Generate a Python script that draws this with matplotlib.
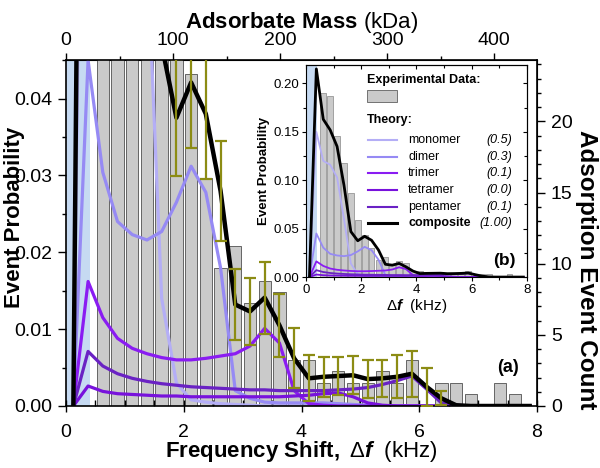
import matplotlib
matplotlib.use('Agg')
import matplotlib.pyplot as plt
import numpy as np
from matplotlib.ticker import MultipleLocator, FormatStrFormatter, NullFormatter
from matplotlib.patches import Rectangle

plt.rcParams['font.family'] = ['Liberation Sans', 'DejaVu Sans']
plt.rcParams['mathtext.fontset'] = 'custom'
plt.rcParams['mathtext.rm'] = 'Liberation Sans'
plt.rcParams['mathtext.it'] = 'Liberation Sans:italic'
plt.rcParams['mathtext.bf'] = 'Liberation Sans:bold'
plt.rcParams['mathtext.bfit'] = 'Liberation Sans:bold:italic'

# bin centres (kHz)
freq = [0.125, 0.375, 0.625, 0.875, 1.125, 1.375, 1.625, 1.875,
        2.125, 2.375, 2.625, 2.875, 3.125, 3.375, 3.625, 3.875,
        4.125, 4.375, 4.625, 4.875, 5.125, 5.375, 5.625, 5.875,
        6.125, 6.375, 6.625, 6.875, 7.125, 7.375, 7.625, 7.875]

# experimental histogram (event probability)
exp_prob = [0, 0, 0.19, 0.187, 0.146, 0.118, 0.087, 0.059,
            0.0432, 0.0297, 0.018, 0.0208, 0.0134, 0.0163, 0.0148, 0.006,
            0.006, 0.003, 0.0045, 0.003, 0.003, 0.0045, 0.003, 0.006,
            0, 0.003, 0.003, 0.0015, 0, 0.003, 0.0015, 0]

# theory curves
monomer = [0, 0.15, 0.12, 0.116, 0.103, 0.06, 0.014, 0.003,
           0.0008, 0.0005, 0.0003, 0.0002, 0.0001, 0, 0, 0,
           0, 0, 0, 0, 0, 0, 0, 0, 0, 0, 0, 0, 0, 0, 0, 0]
dimer = [0, 0.045, 0.0304, 0.024, 0.0223, 0.0216, 0.0227, 0.0265,
         0.0312, 0.0278, 0.018, 0.002, 0.001, 0.0005, 0.0004, 0.0004,
         0.0004, 0.0004, 0.0003, 0.0002, 0.0001, 0, 0, 0,
         0, 0, 0, 0, 0, 0, 0, 0]
trimer = [0, 0.0162, 0.0115, 0.0088, 0.0075, 0.0068, 0.0063, 0.006,
          0.006, 0.0062, 0.0065, 0.0068, 0.0078, 0.0101, 0.0082, 0.002,
          0.0003, 0.0001, 0, 0, 0, 0, 0, 0,
          0, 0, 0, 0, 0, 0, 0, 0]
tetramer = [0, 0.0026, 0.0019, 0.0016, 0.0015, 0.0014, 0.0013, 0.0013,
            0.0012, 0.0012, 0.0012, 0.0012, 0.0012, 0.0012, 0.0012, 0.0013,
            0.0014, 0.0016, 0.0017, 0.0012, 0.0004, 0.0001, 0, 0,
            0, 0, 0, 0, 0, 0, 0, 0]
pentamer = [0, 0.0071, 0.0052, 0.0042, 0.0036, 0.0032, 0.0029, 0.0027,
            0.0025, 0.0024, 0.0023, 0.0022, 0.0021, 0.0021, 0.002, 0.002,
            0.002, 0.002, 0.0021, 0.0022, 0.0024, 0.0028, 0.0033, 0.0039,
            0.0022, 0.0004, 0.0001, 0, 0, 0, 0, 0]
composite = [0, 0.215, 0.163, 0.152, 0.135, 0.095, 0.047, 0.0375,
             0.0421, 0.038, 0.028, 0.0132, 0.0123, 0.0141, 0.0105, 0.0062,
             0.0036, 0.0038, 0.0039, 0.004, 0.0035, 0.0036, 0.0038, 0.0042,
             0.0025, 0.001, 0.0001, 0, 0, 0, 0, 0]

# error bars (on composite), bins 1.875 .. 6.375
err_first, err_last = 7, 25
err_half = [0.0076, 0.0085, 0.0085, 0.0065, 0.0046, 0.0044, 0.0047, 0.0041,
            0.0039, 0.003, 0.0026, 0.0025, 0.0025, 0.0025, 0.0024, 0.0028,
            0.003, 0.0025, 0.0009]

names = ['monomer', 'dimer', 'trimer', 'tetramer', 'pentamer']
weights = ['(0.5)', '(0.3)', '(0.1)', '(0.0)', '(0.1)']
curves = [monomer, dimer, trimer, tetramer, pentamer]
colors = ['#b4aef6', '#968af4', '#8a1cf2', '#7812dc', '#6a22c4']

khz_to_kda = 55.0
prob_to_count = 540.0

fig = plt.figure(figsize=(6, 4.68), dpi=100)
ax = fig.add_axes([0.11, 0.1325, 0.785, 0.739])

ax.axvspan(0, 0.41, color='#c6daf2', zorder=0, lw=0)
ax.bar(freq, exp_prob, width=0.21, color='#cacaca', edgecolor='#505050', lw=0.6, zorder=1)
for c, col in zip(curves, colors):
    ax.plot(freq, c, color=col, lw=2.3, zorder=2)
ax.plot(freq, composite, color='black', lw=3.2, zorder=3)
ex = freq[err_first:err_last + 1]
ey = composite[err_first:err_last + 1]
ax.errorbar(ex, ey, yerr=err_half, fmt='none', ecolor='#8c8c14', elinewidth=1.6,
            capsize=4, capthick=1.6, zorder=4)

ax.set_xlim(0, 8)
ax.set_ylim(0, 0.045)
ax.xaxis.set_major_locator(MultipleLocator(2))
ax.xaxis.set_minor_locator(MultipleLocator(0.5))
ax.yaxis.set_major_locator(MultipleLocator(0.01))
ax.yaxis.set_minor_locator(MultipleLocator(0.005))
ax.yaxis.set_major_formatter(FormatStrFormatter('%.2f'))
ax.tick_params(axis='x', which='major', direction='inout', length=8, width=1, labelsize=14, pad=9)
ax.tick_params(axis='x', which='minor', direction='in', length=4, width=1)
ax.tick_params(axis='y', which='major', direction='out', length=6, width=1, labelsize=14, pad=4)
ax.tick_params(axis='y', which='minor', direction='out', length=3, width=1)
for s in ax.spines.values():
    s.set_linewidth(1.2)

top = ax.secondary_xaxis('top', functions=(lambda f: f * khz_to_kda, lambda m: m / khz_to_kda))
top.xaxis.set_major_locator(MultipleLocator(100))
top.xaxis.set_minor_locator(MultipleLocator(50))
top.tick_params(which='major', direction='out', length=5, width=1, labelsize=14, pad=3)
top.tick_params(which='minor', direction='out', length=3, width=1)

right = ax.secondary_yaxis('right', functions=(lambda p: p * prob_to_count, lambda n: n / prob_to_count))
right.yaxis.set_major_locator(MultipleLocator(5))
right.yaxis.set_minor_locator(MultipleLocator(1))
right.tick_params(which='major', direction='out', length=6, width=1, labelsize=14, pad=4)
right.tick_params(which='minor', direction='out', length=3, width=1)

fig.text(0.024, 0.536, 'Event Probability', rotation=90, ha='center', va='center',
         fontsize=16, fontweight='bold')
fig.text(0.978, 0.423, 'Adsorption Event Count', rotation=270, ha='center', va='center',
         fontsize=17.5, fontweight='bold')
fig.text(0.502, 0.036, r'$\mathbf{Frequency\ Shift,}\ \Delta\mathbfit{f}\ \ \mathrm{(kHz)}$',
         ha='center', va='center', fontsize=16)
fig.text(0.502, 0.951, r'$\mathbf{Adsorbate\ Mass}\ \mathrm{(kDa)}$',
         ha='center', va='center', fontsize=16)
ax.text(0.938, 0.11, '(a)', transform=ax.transAxes, ha='center', va='center',
        fontsize=13, fontweight='bold')

# inset (b)
ins = fig.add_axes([0.51, 0.408, 0.368, 0.453], zorder=10)
ins.set_facecolor('white')
ins.axvspan(0, 0.41, color='#c6daf2', zorder=0, lw=0)
ins.bar(freq, exp_prob, width=0.21, color='#cacaca', edgecolor='#707070', lw=0.4, zorder=1)
for c, col in zip(curves, colors):
    ins.plot(freq, c, color=col, lw=1.3, zorder=2)
ins.plot(freq, composite, color='black', lw=2.0, zorder=3)
ins.set_xlim(0, 8)
ins.set_ylim(0, 0.219)
ins.xaxis.set_major_locator(MultipleLocator(2))
ins.xaxis.set_minor_locator(MultipleLocator(1))
ins.yaxis.set_major_locator(MultipleLocator(0.05))
ins.yaxis.set_minor_locator(MultipleLocator(0.025))
ins.yaxis.set_major_formatter(FormatStrFormatter('%.2f'))
ins.tick_params(which='major', direction='out', length=3, width=0.8, labelsize=9.5, pad=2)
ins.tick_params(which='minor', direction='out', length=2, width=0.8)
ins.set_ylabel('Event Probability', fontsize=9.5, fontweight='bold', labelpad=2)
ins.set_xlabel(r'$\Delta\mathbfit{f}\ \ \mathrm{(kHz)}$', fontsize=11, labelpad=1)
for s in ins.spines.values():
    s.set_linewidth(0.8)
ins_top = ins.secondary_xaxis('top')
ins_top.xaxis.set_major_locator(MultipleLocator(2))
ins_top.xaxis.set_minor_locator(MultipleLocator(1))
ins_top.xaxis.set_major_formatter(NullFormatter())
ins_top.tick_params(which='major', direction='in', length=3, width=0.8)
ins_top.tick_params(which='minor', direction='in', length=2, width=0.8)
ins_right = ins.secondary_yaxis('right')
ins_right.yaxis.set_major_locator(MultipleLocator(0.05))
ins_right.yaxis.set_minor_locator(MultipleLocator(0.025))
ins_right.yaxis.set_major_formatter(NullFormatter())
ins_right.tick_params(which='major', direction='in', length=3, width=0.8)
ins_right.tick_params(which='minor', direction='in', length=2, width=0.8)

# legend in inset
tr = ins.transAxes
ins.text(0.275, 0.929, 'Experimental Data:', transform=tr, fontsize=9, fontweight='bold', va='center')
ins.add_patch(Rectangle((0.275, 0.827), 0.135, 0.055, transform=tr, facecolor='#cacaca',
                        edgecolor='#606060', lw=0.6, zorder=5))
ins.text(0.275, 0.74, 'Theory:', transform=tr, fontsize=9, fontweight='bold', va='center')
rows = [0.646, 0.567, 0.489, 0.41, 0.332, 0.253]
for i, (nm, w, col) in enumerate(zip(names + ['composite'], weights + ['(1.00)'], colors + ['black'])):
    y = rows[i]
    bold = nm == 'composite'
    ins.plot([0.28, 0.41], [y, y], transform=tr, color=col, lw=2.2 if bold else 1.5, zorder=5)
    ins.text(0.463, y, nm, transform=tr, fontsize=9, va='center',
             fontweight='bold' if bold else 'normal')
    ins.text(0.935, y, w, transform=tr, fontsize=9, va='center', ha='right', style='italic')
ins.text(0.95, 0.08, '(b)', transform=tr, ha='right', va='center', fontsize=12.5, fontweight='bold')

fig.savefig('out.png', dpi=100)
